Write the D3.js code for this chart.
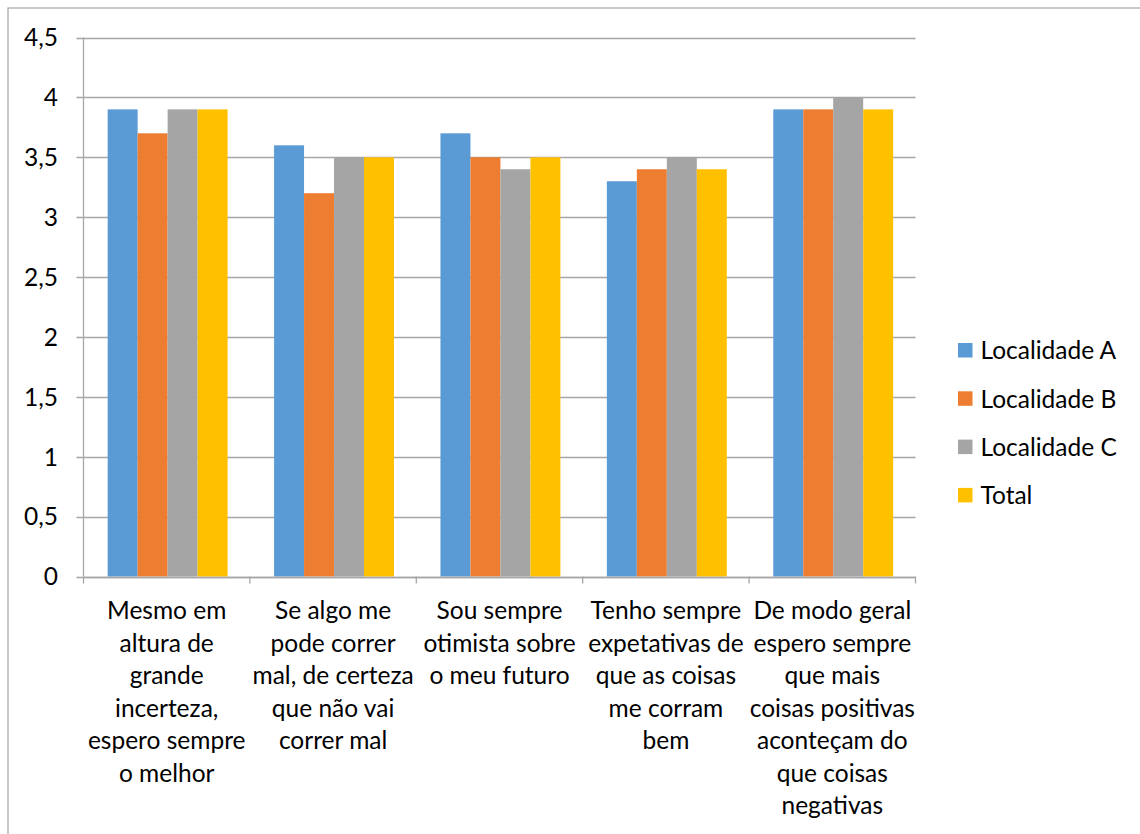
<!DOCTYPE html>
<html>
<head>
<meta charset="utf-8">
<script src="https://cdn.jsdelivr.net/npm/d3@7"></script>
<style>
  html, body { margin: 0; padding: 0; background: #fff; }
  svg { display: block; }
  text { font-family: Lato, "Open Sans", sans-serif; fill: #000; }
</style>
</head>
<body>
<svg id="chart" width="1140" height="834"></svg>
<script>
// Categories (statements), line breaks as shown under the axis
const categories = [
  "Mesmo em\naltura de\ngrande\nincerteza,\nespero sempre\no melhor",
  "Se algo me\npode correr\nmal, de certeza\nque não vai\ncorrer mal",
  "Sou sempre\notimista sobre\no meu futuro",
  "Tenho sempre\nexpetativas de\nque as coisas\nme corram\nbem",
  "De modo geral\nespero sempre\nque mais\ncoisas positivas\naconteçam do\nque coisas\nnegativas"
];
const seriesNames = ["Localidade A", "Localidade B", "Localidade C", "Total"];
const localidadeA = [3.9, 3.6, 3.7, 3.3, 3.9];
const localidadeB = [3.7, 3.2, 3.5, 3.4, 3.9];
const localidadeC = [3.9, 3.5, 3.4, 3.5, 4.0];
const total       = [3.9, 3.5, 3.5, 3.4, 3.9];
const yTicks = [0, 0.5, 1, 1.5, 2, 2.5, 3, 3.5, 4, 4.5];
const colors = ["#5B9BD5", "#ED7D31", "#A5A5A5", "#FFC000"];

const seriesValues = [localidadeA, localidadeB, localidadeC, total];

const svg = d3.select("#chart");
const fontSize = 24.5;

// outer chart frame
svg.append("rect")
  .attr("x", 8).attr("y", 8)
  .attr("width", 1200).attr("height", 900)
  .attr("fill", "none").attr("stroke", "#a6a6a6").attr("stroke-width", 1.2);

const plot = { left: 83.5, right: 915.5, top: 37.5, bottom: 576.5 };

const x = d3.scaleBand()
  .domain(d3.range(categories.length))
  .range([plot.left, plot.right])
  .paddingInner(0).paddingOuter(0);

const xInner = d3.scaleBand()
  .domain(d3.range(seriesNames.length))
  .range([0, x.bandwidth()])
  .paddingOuter(0.775).paddingInner(0)
  .align(0.52);

const y = d3.scaleLinear().domain([0, 4.5]).range([plot.bottom, plot.top]);

// horizontal gridlines with short tick marks on the left
const grid = svg.append("g").attr("class", "grid");
grid.selectAll("line")
  .data(yTicks)
  .join("line")
  .attr("x1", plot.left - 7)
  .attr("x2", plot.right)
  .attr("y1", d => Math.round(y(d)) + 0.5)
  .attr("y2", d => Math.round(y(d)) + 0.5)
  .attr("stroke", "#a6a6a6")
  .attr("stroke-width", 1.3);

// y axis labels
const fmt = d => String(d).replace(".", ",");
svg.append("g").selectAll("text")
  .data(yTicks)
  .join("text")
  .attr("x", 58)
  .attr("y", d => y(d))
  .attr("dy", "0.36em")
  .attr("text-anchor", "end")
  .attr("font-size", fontSize)
  .text(fmt);

// bars
const groups = svg.append("g").selectAll("g")
  .data(categories.map((c, i) => i))
  .join("g")
  .attr("transform", i => `translate(${x(i)},0)`);

groups.selectAll("rect")
  .data(i => seriesValues.map((vals, s) => ({ s, v: vals[i] })))
  .join("rect")
  .attr("x", d => xInner(d.s))
  .attr("width", xInner.bandwidth())
  .attr("y", d => y(d.v))
  .attr("height", d => y(0) - y(d.v))
  .attr("fill", d => colors[d.s]);

// y axis line
svg.append("line")
  .attr("x1", plot.left).attr("x2", plot.left)
  .attr("y1", plot.top).attr("y2", plot.bottom)
  .attr("stroke", "#a6a6a6").attr("stroke-width", 1.3);

// x axis line and category ticks
svg.append("line")
  .attr("x1", plot.left).attr("x2", plot.right)
  .attr("y1", Math.round(y(0)) + 0.5).attr("y2", Math.round(y(0)) + 0.5)
  .attr("stroke", "#a6a6a6").attr("stroke-width", 1.3);

svg.append("g").selectAll("line")
  .data(d3.range(categories.length + 1))
  .join("line")
  .attr("x1", i => i < categories.length ? x(i) : plot.right)
  .attr("x2", i => i < categories.length ? x(i) : plot.right)
  .attr("y1", y(0))
  .attr("y2", y(0) + 7)
  .attr("stroke", "#a6a6a6").attr("stroke-width", 1.3);

// category labels
const lineHeight = 32.5;
svg.append("g").selectAll("text")
  .data(categories)
  .join("text")
  .attr("text-anchor", "middle")
  .attr("font-size", fontSize)
  .each(function (c, i) {
    const t = d3.select(this);
    c.split("\n").forEach((ln, k) => {
      t.append("tspan")
        .attr("x", x(i) + x.bandwidth() / 2)
        .attr("y", 619 + k * lineHeight)
        .text(ln);
    });
  });

// legend
const legend = svg.append("g").selectAll("g")
  .data(seriesNames)
  .join("g")
  .attr("transform", (d, i) => `translate(958,${343 + i * 48.3})`);

legend.append("rect")
  .attr("width", 14.5).attr("height", 14.5)
  .attr("fill", (d, i) => colors[i]);

legend.append("text")
  .attr("x", 22.5)
  .attr("y", 7.5)
  .attr("dy", "0.36em")
  .attr("font-size", fontSize)
  .text(d => d);
</script>
</body>
</html>
